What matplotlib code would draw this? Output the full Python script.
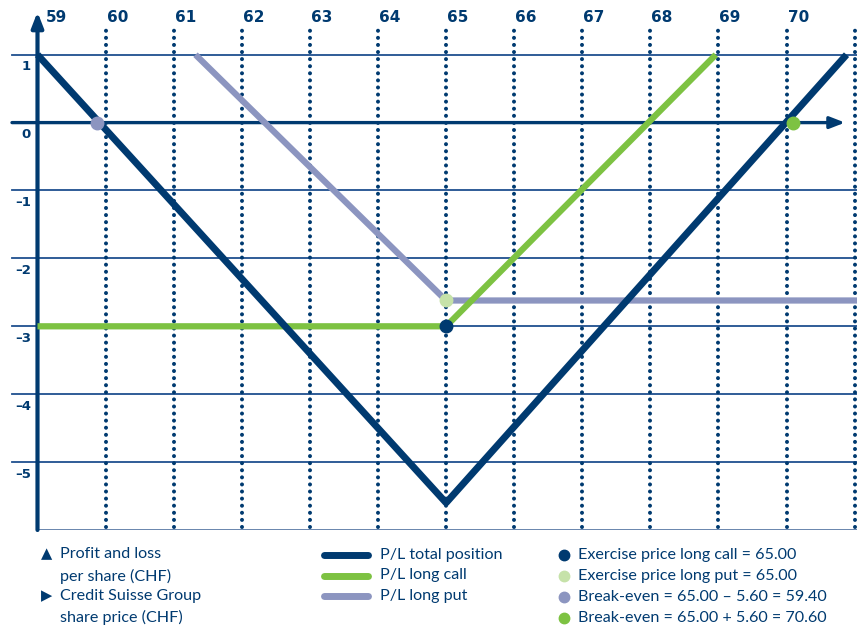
import matplotlib.pyplot as plt

plt.rcParams['font.family'] = ['Lato', 'DejaVu Sans']

# share price grid and P/L levels
price_lines = [60, 61, 62, 63, 64, 65, 66, 67, 68, 69, 70, 71]
price_labels = [59, 60, 61, 62, 63, 64, 65, 66, 67, 68, 69, 70]
pl_levels = [1, -1, -2, -3, -4, -5]
pl_labels = [1, 0, -1, -2, -3, -4, -5]

# lines as drawn
total_x = [59, 65, 70.88]
total_y = [1, -5.6, 1]
call_x = [59, 65, 68.96]
call_y = [-3, -3, 1]
put_x = [61.32, 65, 71.1]
put_y = [1, -2.62, -2.62]

# dots
ex_call = (65, -3)
ex_put = (65, -2.62)
be_low = (59.88, 0)
be_high = (70.09, 0)

navy = '#003a70'
grid_c = '#1f4f8f'
green = '#7dc242'
put_c = '#8c95c0'
light_green = '#c6e2a9'

W, H = 857, 627
fig = plt.figure(figsize=(W / 100, H / 100), dpi=100)

# chart area, pixel 0..530 vertically
ax = fig.add_axes([0, (H - 530) / H, 1, 530 / H])
ux, uy = 68.1, 67.9
x0 = 59 - 37.5 / ux
ax.set_xlim(x0, x0 + W / ux)
ax.set_ylim(-6, -6 + 530 / uy)
ax.axis('off')

xl = x0 + 12 / ux
for v in pl_levels:
    ax.plot([xl, x0 + W / ux], [v, v], color=grid_c, lw=1.3, zorder=1)
ax.plot([59, x0 + W / ux], [-6, -6], color='#5b7aa6', lw=2, zorder=1)

for v in price_lines:
    ax.plot([v, v], [-5.96, 1.42], color=navy, lw=2.9, linestyle=(0, (0.01, 1.75)),
            dash_capstyle='round', zorder=1)

# axes with arrows
ax.annotate('', xy=(x0 + 845 / ux, 0), xytext=(xl, 0),
            arrowprops=dict(arrowstyle='-|>,head_length=0.9,head_width=0.35', color=navy, lw=2.4,
                            shrinkA=0, shrinkB=0), zorder=2)
ax.annotate('', xy=(59, -6 + 518 / uy), xytext=(59, -6),
            arrowprops=dict(arrowstyle='-|>,head_length=0.9,head_width=0.35', color=navy, lw=3,
                            shrinkA=0, shrinkB=0), zorder=2)

num_font = ['DejaVu Sans']
for p in price_labels:
    off = 8 / ux if p == 59 else 1 / ux
    ax.text(p + off, -6 + (530 - 17) / uy, str(p), ha='left', va='center',
            fontsize=11, fontweight='bold', color=navy, family=num_font)
for v in pl_labels:
    s = str(v).replace('-', '\u2013')
    ax.text(x0 + 31 / ux, v - 12 / uy, s, ha='right', va='center',
            fontsize=9.5, fontweight='bold', color=navy, family=num_font)

ax.plot(put_x, put_y, color=put_c, lw=4.5, solid_capstyle='butt', zorder=3)
ax.plot(call_x, call_y, color=green, lw=4.5, solid_capstyle='butt', zorder=4)
ax.plot(total_x, total_y, color=navy, lw=5, solid_capstyle='butt', zorder=5)

ax.plot(*ex_call, 'o', color=navy, ms=9, zorder=6)
ax.plot(*ex_put, 'o', color=light_green, ms=9, zorder=6)
ax.plot(*be_low, 'o', color=put_c, ms=9, zorder=6)
ax.plot(*be_high, 'o', color=green, ms=9, zorder=6)

# legend area in pixels
lax = fig.add_axes([0, 0, 1, 1])
lax.set_xlim(0, W)
lax.set_ylim(H, 0)
lax.axis('off')
lax.patch.set_alpha(0)

fs = 11.6
lax.text(41, 554, '\u25b2', fontsize=10.5, color=navy, va='center', ha='left', family='DejaVu Sans')
lax.text(60, 554, 'Profit and loss', fontsize=fs, color=navy, va='center')
lax.text(60, 576, 'per share (CHF)', fontsize=fs, color=navy, va='center')
lax.text(41, 596, '\u25b6', fontsize=10.5, color=navy, va='center', ha='left', family='DejaVu Sans')
lax.text(60, 596, 'Credit Suisse Group', fontsize=fs, color=navy, va='center')
lax.text(60, 617, 'share price (CHF)', fontsize=fs, color=navy, va='center')

line_items = [('P/L total position', navy), ('P/L long call', green), ('P/L long put', put_c)]
for i, (lab, c) in enumerate(line_items):
    y = 555 + i * 20.5
    lax.plot([324, 368], [y, y], color=c, lw=5, solid_capstyle='round')
    lax.text(380, y, lab, fontsize=fs, color=navy, va='center')

dot_items = [('Exercise price long call = 65.00', navy),
             ('Exercise price long put = 65.00', light_green),
             ('Break-even = 65.00 \u2013 5.60 = 59.40', put_c),
             ('Break-even = 65.00 + 5.60 = 70.60', green)]
for i, (lab, c) in enumerate(dot_items):
    y = 555 + i * 21
    lax.plot(564, y, 'o', color=c, ms=7.5)
    lax.text(578, y, lab, fontsize=fs, color=navy, va='center')

fig.savefig('out.png', dpi=100)
